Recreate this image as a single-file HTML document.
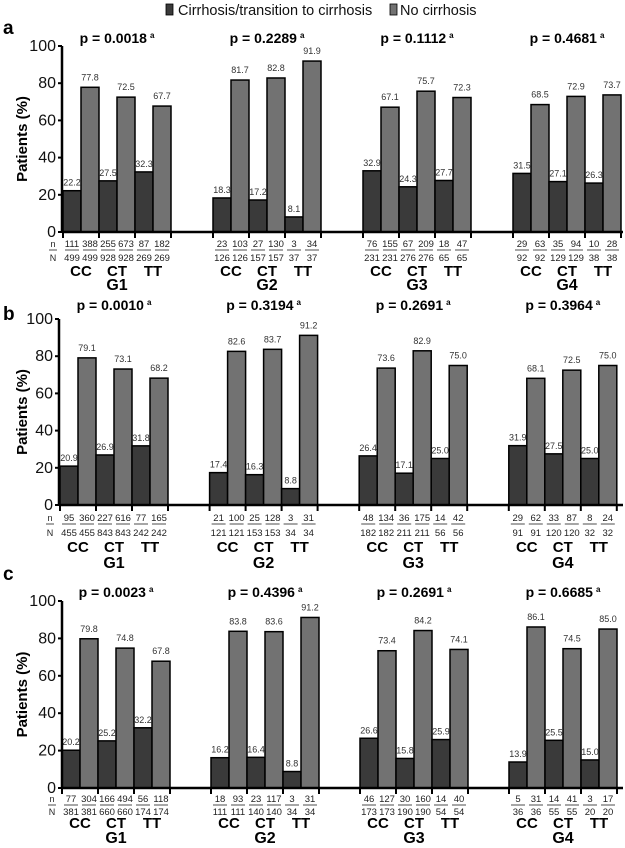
<!DOCTYPE html>
<html><head><meta charset="utf-8"><style>
body{margin:0;background:#fff;}
svg{display:block;font-family:"Liberation Sans",Arial,sans-serif;}
</style></head><body>
<svg id="chart" width="625" height="848" viewBox="0 0 625 848" xmlns="http://www.w3.org/2000/svg">
<g>
<rect x="166" y="4" width="7" height="11" fill="#3a3a3a" stroke="#000" stroke-width="0.8"/>
<text x="178" y="15" font-size="14.5" fill="#111">Cirrhosis/transition to cirrhosis</text>
<rect x="390" y="4" width="7" height="11" fill="#727272" stroke="#000" stroke-width="0.8"/>
<text x="400" y="15" font-size="14.5" fill="#111">No cirrhosis</text>
</g>
</svg>
<script>
const groups = ["G1","G2","G3","G4"];
const genotypes = ["CC","CT","TT"];
const panelLetters = ["a","b","c"];
const yTicks = [0,20,40,60,80,100];
const pValuesA = ["p = 0.0018","p = 0.2289","p = 0.1112","p = 0.4681"];
const pValuesB = ["p = 0.0010","p = 0.3194","p = 0.2691","p = 0.3964"];
const pValuesC = ["p = 0.0023","p = 0.4396","p = 0.2691","p = 0.6685"];
const cirrA = [22.2,27.5,32.3, 18.3,17.2,8.1, 32.9,24.3,27.7, 31.5,27.1,26.3];
const noCirrA = [77.8,72.5,67.7, 81.7,82.8,91.9, 67.1,75.7,72.3, 68.5,72.9,73.7];
const cirrB = [20.9,26.9,31.8, 17.4,16.3,8.8, 26.4,17.1,25.0, 31.9,27.5,25.0];
const noCirrB = [79.1,73.1,68.2, 82.6,83.7,91.2, 73.6,82.9,75.0, 68.1,72.5,75.0];
const cirrC = [20.2,25.2,32.2, 16.2,16.4,8.8, 26.6,15.8,25.9, 13.9,25.5,15.0];
const noCirrC = [79.8,74.8,67.8, 83.8,83.6,91.2, 73.4,84.2,74.1, 86.1,74.5,85.0];
const nCirrA = [111,255,87, 23,27,3, 76,67,18, 29,35,10];
const nNoA = [388,673,182, 103,130,34, 155,209,47, 63,94,28];
const totA = [499,928,269, 126,157,37, 231,276,65, 92,129,38];
const nCirrB = [95,227,77, 21,25,3, 48,36,14, 29,33,8];
const nNoB = [360,616,165, 100,128,31, 134,175,42, 62,87,24];
const totB = [455,843,242, 121,153,34, 182,211,56, 91,120,32];
const nCirrC = [77,166,56, 18,23,3, 46,30,14, 5,14,3];
const nNoC = [304,494,118, 93,117,31, 127,160,40, 31,41,17];
const totC = [381,660,174, 111,140,34, 173,190,54, 36,55,20];

const panels = [
 {p:pValuesA,c:cirrA,nc:noCirrA,n1:nCirrA,n2:nNoA,t:totA,top:46,bot:232,ax:62,x0:63,pitch:150,pY:43,letY:34,nY:247,NY:261,gY:276,GY:290},
 {p:pValuesB,c:cirrB,nc:noCirrB,n1:nCirrB,n2:nNoB,t:totB,top:319,bot:505,ax:59,x0:60,pitch:149.6,pY:310,letY:320,nY:521,NY:536,gY:552,GY:568},
 {p:pValuesC,c:cirrC,nc:noCirrC,n1:nCirrC,n2:nNoC,t:totC,top:601,bot:788,ax:62,x0:62,pitch:149,pY:597,letY:580,nY:802,NY:815,gY:828,GY:843}
];
const svg = document.getElementById('chart');
const NS = 'http://www.w3.org/2000/svg';
function mk(tag, attrs, parent, txt){
  const e = document.createElementNS(NS, tag);
  for (const k in attrs) e.setAttribute(k, attrs[k]);
  if (txt !== undefined) e.textContent = txt;
  parent.appendChild(e);
  return e;
}
const BW = 18;
panels.forEach((P, pi) => {
  const g = mk('g', {}, svg);
  
  
  const yS = v => P.bot - (v/100)*(P.bot - P.top);
  const let_ = mk('text', {x:3, y:P.letY, 'font-size':19, 'font-weight':'bold'}, g, panelLetters[pi]);
  
  
  const yt = mk('text', {x:0, y:0, 'font-size':15, 'font-weight':'bold', 'text-anchor':'middle', transform:`translate(27,${(P.top+P.bot)/2}) rotate(-90)`}, g, 'Patients (%)');
  
  
  yTicks.forEach(v => {
    const t = mk('text', {x:P.ax-6, y:yS(v)+5, 'font-size':16, 'text-anchor':'end', fill:'#111'}, g, v);
    
    
    const tk = mk('line', {x1:P.ax-4, x2:P.ax, y1:yS(v), y2:yS(v), stroke:'#000', 'stroke-width':2}, g);
    
    
  });
  groups.forEach((gn, gi) => {
    const gx = P.x0 + gi*P.pitch;
    const pt = mk('text', {x:gx+54, y:P.pY, 'font-size':14, 'font-weight':'bold', 'text-anchor':'middle'}, g);
    
    
    pt.textContent = P.p[gi];
    const sup = mk('tspan', {'font-size':8, dy:-5, dx:3}, pt, 'a');
    genotypes.forEach((gt, ti) => {
      const i = gi*3 + ti;
      const bx = gx + ti*36;
      const b1 = mk('rect', {x:bx, y:yS(P.c[i]), width:BW, height:yS(0)-yS(P.c[i]), fill:'#3a3a3a', stroke:'#000', 'stroke-width':1.5}, g);
      
      
      const b2 = mk('rect', {x:bx+BW, y:yS(P.nc[i]), width:BW, height:yS(0)-yS(P.nc[i]), fill:'#727272', stroke:'#000', 'stroke-width':1.5}, g);
      
      
      const l1 = mk('text', {x:bx+BW/2, y:yS(P.c[i])-5, 'font-size':9, 'text-anchor':'middle', fill:'#333'}, g, P.c[i].toFixed(1));
      
      
      const l2 = mk('text', {x:bx+BW*1.5, y:yS(P.nc[i])-7, 'font-size':9, 'text-anchor':'middle', fill:'#333'}, g, P.nc[i].toFixed(1));
      
      
      [[P.n1[i], bx+BW/2],[P.n2[i], bx+BW*1.5]].forEach(([nv, cx]) => {
        const a = mk('text', {x:cx, y:P.nY, 'font-size':9.5, 'text-anchor':'middle', fill:'#222'}, g, nv);
        
        
        const ln = mk('line', {x1:cx-7, x2:cx+7, y1:P.nY+3, y2:P.nY+3, stroke:'#222', 'stroke-width':0.8}, g);
        
        
        const d = mk('text', {x:cx, y:P.NY, 'font-size':9.5, 'text-anchor':'middle', fill:'#222'}, g, P.t[i]);
        
        
      });
      const gl = mk('text', {x:bx+BW, y:P.gY, 'font-size':15, 'font-weight':'bold', 'text-anchor':'middle'}, g, gt);
      
      
    });
    for (let k=0;k<4;k++){
      const tk = mk('line', {x1:gx+k*36, x2:gx+k*36, y1:P.bot, y2:P.bot+6, stroke:'#000', 'stroke-width':2}, g);
      
      
    }
    const GL = mk('text', {x:gx+54, y:P.GY, 'font-size':16, 'font-weight':'bold', 'text-anchor':'middle'}, g, gn);
    
    
  });
  const nl = mk('text', {x:P.x0-10, y:P.nY, 'font-size':9, 'text-anchor':'middle', fill:'#222'}, g, 'n');
  
  
  const nln = mk('line', {x1:P.x0-14, x2:P.x0-6, y1:P.nY+3, y2:P.nY+3, stroke:'#222', 'stroke-width':0.8}, g);
  
  
  const Nl = mk('text', {x:P.x0-10, y:P.NY, 'font-size':9, 'text-anchor':'middle', fill:'#222'}, g, 'N');
  
  
  const ya = mk('line', {x1:P.ax, x2:P.ax, y1:P.top, y2:P.bot+1, stroke:'#000', 'stroke-width':2.5}, g);
  
  
  const xa = mk('line', {x1:P.ax, x2:623, y1:P.bot, y2:P.bot, stroke:'#000', 'stroke-width':2.5}, g);
  
  
});
</script>
</body></html>
